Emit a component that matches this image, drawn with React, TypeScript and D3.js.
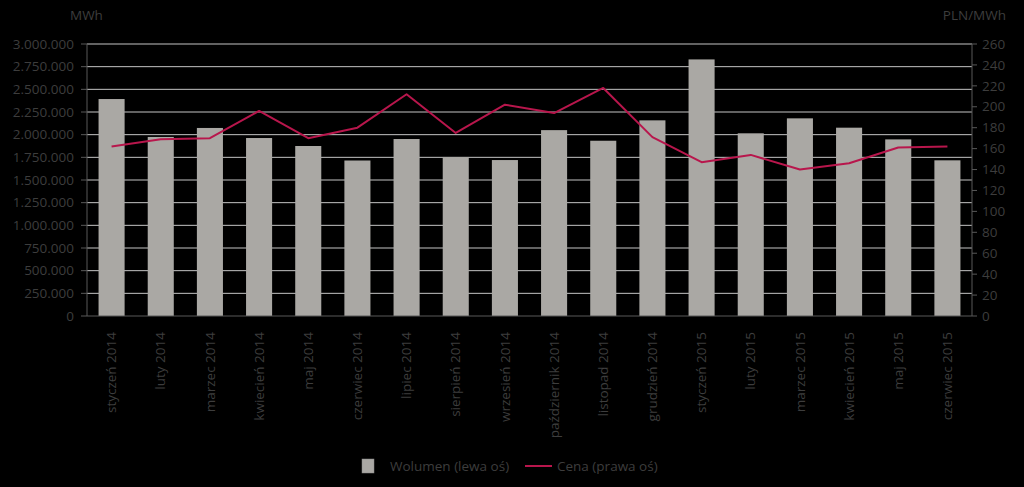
import React from "react";
import * as d3 from "d3";

const categories = [
  "styczeń 2014", "luty 2014", "marzec 2014", "kwiecień 2014", "maj 2014", "czerwiec 2014",
  "lipiec 2014", "sierpień 2014", "wrzesień 2014", "październik 2014", "listopad 2014", "grudzień 2014",
  "styczeń 2015", "luty 2015", "marzec 2015", "kwiecień 2015", "maj 2015", "czerwiec 2015",
];
const volume = [
  2393000, 1975000, 2074000, 1963000, 1875000, 1715000,
  1952000, 1754000, 1720000, 2050000, 1933000, 2158000,
  2830000, 2015000, 2180000, 2077000, 1948000, 1717000,
];
const price = [
  162, 169, 170, 196, 170, 180,
  212, 175, 202, 194, 218, 171,
  147, 154, 140, 146, 161, 162,
];
const leftTicks = d3.range(0, 3000001, 250000);
const rightTicks = d3.range(0, 261, 20);
const leftUnit = "MWh";
const rightUnit = "PLN/MWh";
const legendLabels = ["Wolumen (lewa oś)", "Cena (prawa oś)"];

const W = 1024, H = 487;
const M = { left: 87, right: 972, top: 44, bottom: 316 };
const TEXT = "#3d3d3d";
const FONT = "'Open Sans', sans-serif";
const BAR = "#aaa8a4";
const LINE = "#b8164c";

const pl = d3.formatLocale({ decimal: ",", thousands: ".", grouping: [3], currency: ["", ""] });
const fmt = pl.format(",.0f");

export default function App() {
  const x = d3.scaleBand<string>().domain(categories).range([M.left, M.right]).paddingInner(0.47).paddingOuter(0.235);
  const yL = d3.scaleLinear().domain([0, 3000000]).range([M.bottom, M.top]);
  const yR = d3.scaleLinear().domain([0, 260]).range([M.bottom, M.top]);
  const band = d3.scaleBand<string>().domain(categories).range([M.left, M.right]);
  const cx = (c: string) => (band(c) as number) + band.bandwidth() / 2;
  const line = d3.line<number>().x((_, i) => cx(categories[i])).y((d) => yR(d));

  return (
    <svg width={W} height={H} style={{ position: "absolute", left: 0, top: 0, background: "#000" }} fontFamily={FONT}>
      <rect x={0} y={0} width={W} height={H} fill="#000" />
      {leftTicks.map((t) => (
        <g key={"g" + t}>
          {t > 0 && <line x1={M.left} x2={M.right} y1={yL(t)} y2={yL(t)} stroke="#c4c4c4" strokeWidth={1} />}
          <line x1={M.left - 6} x2={M.left} y1={yL(t)} y2={yL(t)} stroke="#595959" />
          <text x={74} y={yL(t)} dy="0.35em" textAnchor="end" fontSize={13.5} fill={TEXT}>{fmt(t)}</text>
        </g>
      ))}
      {rightTicks.map((t) => (
        <g key={"r" + t}>
          <line x1={M.right} x2={M.right + 5} y1={yR(t)} y2={yR(t)} stroke="#595959" />
          <text x={982} y={yR(t)} dy="0.35em" textAnchor="start" fontSize={13.5} fill={TEXT}>{t}</text>
        </g>
      ))}
      {categories.map((c, i) => (
        <rect key={c} x={x(c)} y={yL(volume[i])} width={x.bandwidth()} height={M.bottom - yL(volume[i])} fill={BAR} />
      ))}
      <line x1={M.left} x2={M.left} y1={M.top} y2={M.bottom} stroke="#595959" />
      <line x1={M.right} x2={M.right} y1={M.top} y2={M.bottom} stroke="#595959" />
      <line x1={M.left} x2={M.right} y1={M.bottom} y2={M.bottom} stroke="#595959" />
      <path d={line(price) || ""} fill="none" stroke={LINE} strokeWidth={2} strokeLinejoin="round" />
      {categories.map((c) => (
        <text key={"l" + c} transform={`translate(${cx(c)},332) rotate(-90)`} dy="0.35em" textAnchor="end" fontSize={13.5} fill={TEXT}>{c}</text>
      ))}
      <text x={70} y={20} fontSize={13.5} fill={TEXT}>{leftUnit}</text>
      <text x={1006} y={20} textAnchor="end" fontSize={13.5} fill={TEXT}>{rightUnit}</text>
      <rect x={362} y={459} width={12} height={14} fill={BAR} stroke="#888" strokeWidth={0.5} />
      <text x={390} y={466} dy="0.35em" fontSize={13.5} fill={TEXT}>{legendLabels[0]}</text>
      <line x1={525} x2={552} y1={466} y2={466} stroke={LINE} strokeWidth={2} />
      <text x={557} y={466} dy="0.35em" fontSize={13.5} fill={TEXT}>{legendLabels[1]}</text>
    </svg>
  );
}
